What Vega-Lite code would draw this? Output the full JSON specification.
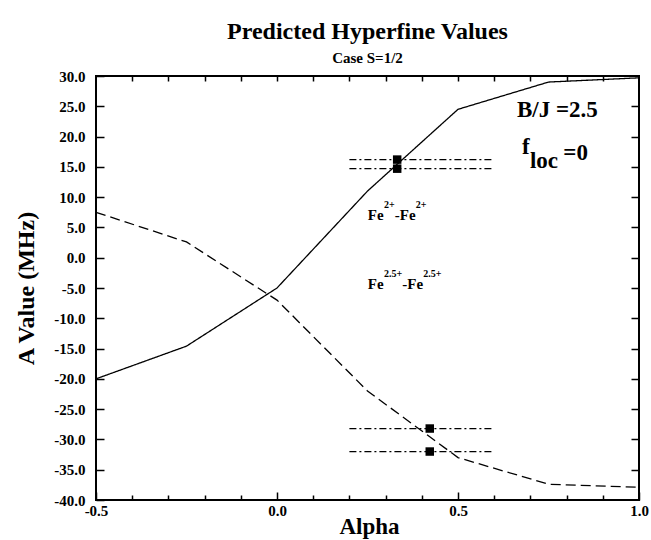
{
  "$schema": "https://vega.github.io/schema/vega-lite/v6.json",
  "width": 543,
  "height": 424,
  "autosize": {"type": "none"},
  "padding": {"left": 96, "top": 76, "right": 12, "bottom": 40},
  "background": "white",
  "config": {
    "view": {"stroke": "black", "strokeWidth": 2},
    "font": "Liberation Serif"
  },
  "title": {
    "text": "Predicted Hyperfine Values",
    "subtitle": "Case S=1/2",
    "anchor": "middle",
    "frame": "group",
    "font": "Liberation Serif",
    "fontSize": 24,
    "fontWeight": "bold",
    "color": "black",
    "subtitleFont": "Liberation Serif",
    "subtitleFontSize": 15,
    "subtitleFontWeight": "bold",
    "subtitleColor": "black",
    "subtitlePadding": 7,
    "offset": 3
  },
  "datasets": {
    "curves": [
      {"series": "Fe2+-Fe2+", "alpha": -0.5, "A": -20.0},
      {"series": "Fe2+-Fe2+", "alpha": -0.25, "A": -14.6},
      {"series": "Fe2+-Fe2+", "alpha": 0.0, "A": -5.0},
      {"series": "Fe2+-Fe2+", "alpha": 0.25, "A": 11.0},
      {"series": "Fe2+-Fe2+", "alpha": 0.5, "A": 24.5},
      {"series": "Fe2+-Fe2+", "alpha": 0.75, "A": 29.0},
      {"series": "Fe2+-Fe2+", "alpha": 1.0, "A": 29.7},
      {"series": "Fe2.5+-Fe2.5+", "alpha": -0.5, "A": 7.5},
      {"series": "Fe2.5+-Fe2.5+", "alpha": -0.25, "A": 2.6},
      {"series": "Fe2.5+-Fe2.5+", "alpha": 0.0, "A": -7.0},
      {"series": "Fe2.5+-Fe2.5+", "alpha": 0.25, "A": -22.0},
      {"series": "Fe2.5+-Fe2.5+", "alpha": 0.5, "A": -33.0},
      {"series": "Fe2.5+-Fe2.5+", "alpha": 0.75, "A": -37.4},
      {"series": "Fe2.5+-Fe2.5+", "alpha": 1.0, "A": -37.9}
    ],
    "refs": [
      {"from": 0.2, "to": 0.6, "A": 16.2},
      {"from": 0.2, "to": 0.6, "A": 14.7},
      {"from": 0.2, "to": 0.6, "A": -28.2},
      {"from": 0.2, "to": 0.6, "A": -32.0}
    ],
    "squares": [
      {"alpha": 0.332, "A": 16.2},
      {"alpha": 0.332, "A": 14.7},
      {"alpha": 0.422, "A": -28.2},
      {"alpha": 0.422, "A": -32.0}
    ],
    "mainText": [
      {"t": "Fe", "alpha": 0.2509, "A": 6.19},
      {"t": "-Fe", "alpha": 0.3255, "A": 6.19},
      {"t": "Fe", "alpha": 0.2509, "A": -5.2},
      {"t": "-Fe", "alpha": 0.3462, "A": -5.2}
    ],
    "supText": [
      {"t": "2+", "alpha": 0.2959, "A": 8.17},
      {"t": "2+", "alpha": 0.3830, "A": 8.17},
      {"t": "2.5+", "alpha": 0.2959, "A": -3.2},
      {"t": "2.5+", "alpha": 0.4037, "A": -3.2}
    ],
    "bigText": [
      {"t": "B/J =2.5", "alpha": 0.6628, "A": 23.24},
      {"t": "f", "alpha": 0.6766, "A": 17.08},
      {"t": "loc", "alpha": 0.6987, "A": 14.77},
      {"t": "=0", "alpha": 0.7910, "A": 16.09}
    ]
  },
  "resolve": {"axis": {"x": "independent", "y": "independent"}},
  "layer": [
    {
      "data": {"name": "curves"},
      "mark": {"type": "line", "color": "black", "strokeWidth": 1.3},
      "encoding": {
        "x": {
          "field": "alpha", "type": "quantitative",
          "scale": {"domain": [-0.5, 1.0], "nice": false, "zero": false},
          "axis": {
            "orient": "bottom", "values": [-0.5, 0, 0.5, 1.0], "format": ".1f",
            "labelExpr": "replace(datum.label, '\u2212', '-')",
            "domain": false, "grid": false,
            "tickSize": -8, "tickWidth": 1.5, "tickColor": "black",
            "labelFont": "Liberation Serif", "labelFontWeight": "bold", "labelFontSize": 15,
            "labelColor": "black", "labelPadding": 11, "labelFlush": false, "labelOverlap": false, "labelBound": false,
            "title": "Alpha", "titleFont": "Liberation Serif", "titleFontSize": 23, "titleFontWeight": "bold",
            "titleColor": "black", "titleBaseline": "alphabetic", "titleY": 33, "titleX": 273
          }
        },
        "y": {
          "field": "A", "type": "quantitative",
          "scale": {"domain": [-40, 30], "nice": false, "zero": false},
          "axis": {
            "orient": "left",
            "values": [-40, -35, -30, -25, -20, -15, -10, -5, 0, 5, 10, 15, 20, 25, 30],
            "format": ".1f",
            "labelExpr": "replace(datum.label, '\u2212', '-')",
            "domain": false, "grid": false,
            "tickSize": -8, "tickWidth": 1.5, "tickColor": "black",
            "labelFont": "Liberation Serif", "labelFontWeight": "bold", "labelFontSize": 15,
            "labelColor": "black", "labelPadding": 19, "labelOverlap": false, "labelBound": false, "labelFlush": false,
            "title": "A Value (MHz)", "titleFont": "Liberation Serif", "titleFontSize": 24, "titleFontWeight": "bold",
            "titleColor": "black", "titleAngle": 270, "titleBaseline": "alphabetic", "titleX": -63, "titleY": 212
          }
        },
        "strokeDash": {
          "field": "series", "type": "nominal",
          "scale": {"domain": ["Fe2+-Fe2+", "Fe2.5+-Fe2.5+"], "range": [[1, 0], [10, 5]]},
          "legend": null
        }
      }
    },
    {
      "data": {"name": "refs"},
      "mark": {"type": "rule", "color": "black", "strokeWidth": 1.2, "strokeDash": [7, 3, 2, 3]},
      "encoding": {
        "x": {
          "field": "from", "type": "quantitative",
          "axis": {
            "orient": "bottom",
            "values": [-0.4, -0.3, -0.2, -0.1, 0.1, 0.2, 0.3, 0.4, 0.6, 0.7, 0.8, 0.9],
            "labels": false, "domain": false, "grid": false, "title": null,
            "tickSize": -5, "tickWidth": 1.5, "tickColor": "black"
          }
        },
        "x2": {"field": "to"},
        "y": {
          "field": "A", "type": "quantitative",
          "axis": {
            "orient": "right",
            "values": [-35, -30, -25, -20, -15, -10, -5, 0, 5, 10, 15, 20, 25],
            "labels": false, "domain": false, "grid": false, "title": null,
            "tickSize": -8, "tickWidth": 1.5, "tickColor": "black"
          }
        }
      }
    },
    {
      "data": {"name": "squares"},
      "mark": {"type": "point", "shape": "square", "filled": true, "color": "black", "size": 72, "opacity": 1},
      "encoding": {
        "x": {
          "field": "alpha", "type": "quantitative",
          "axis": {
            "orient": "top",
            "values": [-0.4, -0.3, -0.2, -0.1, 0.0, 0.1, 0.2, 0.3, 0.4, 0.5, 0.6, 0.7, 0.8, 0.9],
            "labels": false, "domain": false, "grid": false, "title": null,
            "tickSize": -5, "tickWidth": 1.5, "tickColor": "black"
          }
        },
        "y": {"field": "A", "type": "quantitative", "axis": null}
      }
    },
    {
      "data": {"name": "mainText"},
      "mark": {"type": "text", "font": "Liberation Serif", "fontWeight": "bold", "fontSize": 15, "color": "black", "align": "left", "baseline": "alphabetic"},
      "encoding": {
        "x": {"field": "alpha", "type": "quantitative", "axis": null},
        "y": {"field": "A", "type": "quantitative", "axis": null},
        "text": {"field": "t"}
      }
    },
    {
      "data": {"name": "supText"},
      "mark": {"type": "text", "font": "Liberation Serif", "fontWeight": "bold", "fontSize": 10, "color": "black", "align": "left", "baseline": "alphabetic"},
      "encoding": {
        "x": {"field": "alpha", "type": "quantitative", "axis": null},
        "y": {"field": "A", "type": "quantitative", "axis": null},
        "text": {"field": "t"}
      }
    },
    {
      "data": {"name": "bigText"},
      "mark": {"type": "text", "font": "Liberation Serif", "fontWeight": "bold", "fontSize": 23, "color": "black", "align": "left", "baseline": "alphabetic"},
      "encoding": {
        "x": {"field": "alpha", "type": "quantitative", "axis": null},
        "y": {"field": "A", "type": "quantitative", "axis": null},
        "text": {"field": "t"}
      }
    }
  ]
}
